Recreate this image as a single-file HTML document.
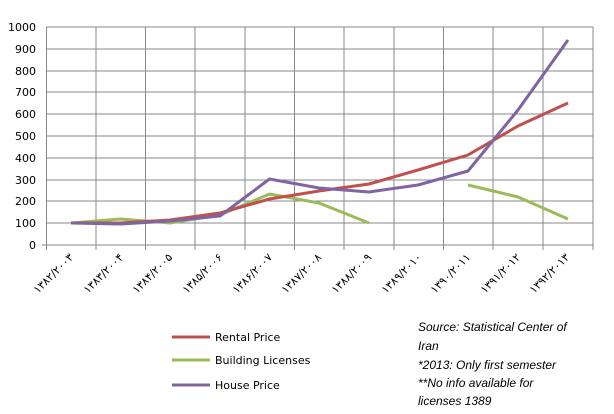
<!DOCTYPE html>
<html><head><meta charset="utf-8"><style>
body{margin:0;background:#fff;}
svg{display:block;font-family:"DejaVu Sans","Liberation Sans",sans-serif;}
</style></head><body>
<svg width="614" height="414" xmlns="http://www.w3.org/2000/svg">
<g stroke="#888" stroke-width="1">
<line x1="46" y1="27" x2="593" y2="27"/><line x1="46" y1="49" x2="593" y2="49"/><line x1="46" y1="71" x2="593" y2="71"/><line x1="46" y1="92" x2="593" y2="92"/><line x1="46" y1="114" x2="593" y2="114"/><line x1="46" y1="136" x2="593" y2="136"/><line x1="46" y1="158" x2="593" y2="158"/><line x1="46" y1="180" x2="593" y2="180"/><line x1="46" y1="201" x2="593" y2="201"/><line x1="46" y1="223" x2="593" y2="223"/><line x1="42" y1="245" x2="593" y2="245"/>
<line x1="46.5" y1="27" x2="46.5" y2="250"/><line x1="96" y1="27" x2="96" y2="250"/><line x1="145.5" y1="27" x2="145.5" y2="250"/><line x1="195" y1="27" x2="195" y2="250"/><line x1="245" y1="27" x2="245" y2="250"/><line x1="294.5" y1="27" x2="294.5" y2="250"/><line x1="344" y1="27" x2="344" y2="250"/><line x1="394" y1="27" x2="394" y2="250"/><line x1="443.5" y1="27" x2="443.5" y2="250"/><line x1="493" y1="27" x2="493" y2="250"/><line x1="543" y1="27" x2="543" y2="250"/><line x1="593" y1="27" x2="593" y2="250"/>
</g>
<g font-size="11" fill="#000" text-anchor="end">
<text x="36" y="31">1000</text><text x="36" y="53">900</text><text x="36" y="75">800</text><text x="36" y="96">700</text><text x="36" y="118">600</text><text x="36" y="140">500</text><text x="36" y="162">400</text><text x="36" y="184">300</text><text x="36" y="205">200</text><text x="36" y="227">100</text><text x="36" y="249">0</text>
</g>
<g font-size="11" fill="#000" text-anchor="end">
<text transform="translate(74,258) rotate(-45)">۱۳۸۲/۲۰۰۳</text>
<text transform="translate(124,258) rotate(-45)">۱۳۸۳/۲۰۰۴</text>
<text transform="translate(173,258) rotate(-45)">۱۳۸۴/۲۰۰۵</text>
<text transform="translate(223,258) rotate(-45)">۱۳۸۵/۲۰۰۶</text>
<text transform="translate(273,258) rotate(-45)">۱۳۸۶/۲۰۰۷</text>
<text transform="translate(322,258) rotate(-45)">۱۳۸۷/۲۰۰۸</text>
<text transform="translate(372,258) rotate(-45)">۱۳۸۸/۲۰۰۹</text>
<text transform="translate(422,258) rotate(-45)">۱۳۸۹/۲۰۱۰</text>
<text transform="translate(471,258) rotate(-45)">۱۳۹۰/۲۰۱۱</text>
<text transform="translate(521,258) rotate(-45)">۱۳۹۱/۲۰۱۲</text>
<text transform="translate(570,258) rotate(-45)">۱۳۹۲/۲۰۱۳</text>
</g>
<g fill="none" stroke-width="3" stroke-linejoin="round">
<polyline stroke="#9bbb59" points="71,223 120.5,219 170,223 220,215 269.5,194 319,203 369,223"/>
<polyline stroke="#9bbb59" points="468,185 518,197 568,219"/>
<polyline stroke="#c0504d" points="71,223 120.5,223 170,220 220,213 269.5,199 319,191 369,184 418,170 468,155 518,126 568,103"/>
<polyline stroke="#8064a2" points="71,223 120.5,224 170,221 220,216 269.5,179 319,188 369,192 418,185 468,171 518,110 568,40"/>
</g>
<g stroke-width="3">
<line x1="172" y1="337" x2="210" y2="337" stroke="#c0504d"/>
<line x1="172" y1="360" x2="210" y2="360" stroke="#9bbb59"/>
<line x1="172" y1="385" x2="210" y2="385" stroke="#8064a2"/>
</g>
<g font-size="11" fill="#000">
<text x="215" y="341">Rental Price</text>
<text x="215" y="364">Building Licenses</text>
<text x="215" y="389">House Price</text>
</g>
<g font-size="12" font-style="italic" fill="#000" font-family="Liberation Sans,sans-serif">
<text x="418" y="331">Source: Statistical Center of</text>
<text x="418" y="350">Iran</text>
<text x="418" y="369">*2013: Only first semester</text>
<text x="418" y="387">**No info available for</text>
<text x="418" y="405">licenses 1389</text>
</g>
</svg>
</body></html>
